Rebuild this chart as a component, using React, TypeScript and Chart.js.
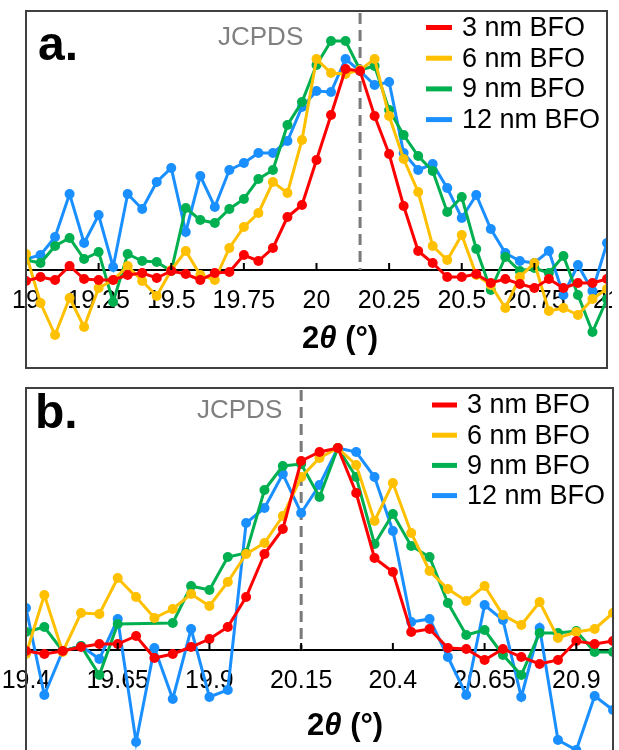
import React, { useEffect, useRef } from 'react';
import { Chart, registerables } from 'chart.js';

Chart.register(...registerables);

const FONT = "'Liberation Sans', Arial, Helvetica, sans-serif";

// ---------- Panel a data ----------
const X_A = [
  19.0, 19.05, 19.1, 19.15, 19.2, 19.25, 19.3, 19.35, 19.4, 19.45,
  19.5, 19.55, 19.6, 19.65, 19.7, 19.75, 19.8, 19.85, 19.9, 19.95,
  20.0, 20.05, 20.1, 20.15, 20.2, 20.25, 20.3, 20.35, 20.4, 20.45,
  20.5, 20.55, 20.6, 20.65, 20.7, 20.75, 20.8, 20.85, 20.9, 20.95, 21.0,
];
const RED_A = [-11, -7, -10, 4, -9, -10, -10, -5, -3, -8, -1, -4, -10, -3, -2, 15, 9, 22, 53, 65, 110, 155, 201, 199, 154, 116, 64, 19, 7, -7, -7, -4, -13, -9, -14, -18, -9, -18, -13, -13, -9];
const YEL_A = [16, -33, -65, -28, -57, -18, -10, 4, -11, -26, 0, 19, -5, -10, 22, 43, 57, 88, 77, 130, 211, 197, 196, 200, 211, 154, 111, 78, 24, 10, 35, -5, -15, -38, -7, 7, -41, -38, -45, -29, -19];
const GRN_A = [10, 7, 24, 32, 11, 18, -32, 16, 9, 8, -1, 62, 50, 47, 61, 71, 91, 100, 145, 168, 205, 229, 229, 200, 204, 160, 135, 114, 99, 58, 73, 21, -20, 13, -1, 2, -3, 14, -25, -62, -29];
const BLU_A = [11, 15, 33, 76, 27, 55, 3, 76, 61, 88, 102, 38, 94, 63, 100, 107, 117, 117, 129, 163, 179, 178, 211, 199, 185, 188, 117, 100, 106, 82, 52, 75, 41, 17, 9, 7, 19, -25, 5, -21, 27];
const TICKS_A = [19, 19.25, 19.5, 19.75, 20, 20.25, 20.5, 20.75, 21];
const TICK_LABELS_A = ['19', '19.25', '19.5', '19.75', '20', '20.25', '20.5', '20.75', '21'];

// ---------- Panel b data ----------
const X_B = [
  19.4, 19.45, 19.5, 19.55, 19.6, 19.65, 19.7, 19.75, 19.8, 19.85,
  19.9, 19.95, 20.0, 20.05, 20.1, 20.15, 20.2, 20.25, 20.3, 20.35,
  20.4, 20.45, 20.5, 20.55, 20.6, 20.65, 20.7, 20.75, 20.8, 20.85,
  20.9, 20.95, 21.0,
];
const RED_B = [-1, -4, -1, 3, 6, 6, 14, -8, -4, 3, 11, 23, 53, 96, 121, 189, 198, 202, 157, 92, 78, 18, 21, 2, 1, -10, 1, -7, -14, -10, 9, 6, 9];
const YEL_B = [-4, 55, -2, 37, 36, 72, 53, 32, 41, 56, 44, 68, 96, 107, 134, 173, 192, 202, 185, 129, 167, 117, 79, 61, 49, 64, 35, 25, 48, 12, 18, 21, 37];
const GRN_B = [18, 23, -1, 4, -25, 26, null, null, 27, 64, 60, 93, 97, 160, 184, 186, 153, 202, 173, 106, 136, 104, 93, 47, 15, 20, -5, -25, 17, 17, 19, -2, -2];
const BLU_B = [42, -45, -1, 4, -9, 31, -92, 2, -49, 21, -47, -40, 127, 142, 176, 137, 165, 202, 198, 173, 119, 28, 31, -7, -45, 45, 30, -47, 22, -90, -100, -46, -60];
const TICKS_B = [19.4, 19.65, 19.9, 20.15, 20.4, 20.65, 20.9];
const TICK_LABELS_B = ['19.4', '19.65', '19.9', '20.15', '20.4', '20.65', '20.9'];

const SERIES_LABELS = ['3 nm BFO', '6 nm BFO', '9 nm BFO', '12 nm BFO'];
const COLORS = ['#FF0000', '#FFC000', '#00B050', '#1A8FFF'];
const JCPDS_POS = 20.15;
const JCPDS_TEXT = 'JCPDS';

type PanelCfg = {
  letter: string;
  top: number;
  width: number;
  height: number;
  padding: { left: number; right: number; top: number; bottom: number };
  xs: number[];
  series: (number | null)[][];
  ticks: number[];
  tickLabels: string[];
  xMin: number;
  xMax: number;
  yMin: number;
  yMax: number;
  letterPos: [number, number];
  jcpdsPos: [number, number];
  legend: { lineX1: number; lineX2: number; textX: number; y0: number; dy: number };
  titlePos: [number, number];
};

const PANELS: PanelCfg[] = [
  {
    letter: 'a.',
    top: 0,
    width: 612,
    height: 375,
    padding: { left: 26, right: 2, top: 11, bottom: 7 },
    xs: X_A,
    series: [RED_A, YEL_A, GRN_A, BLU_A],
    ticks: TICKS_A,
    tickLabels: TICK_LABELS_A,
    xMin: 19,
    xMax: 21,
    yMin: -98,
    yMax: 259,
    letterPos: [38, 60],
    jcpdsPos: [218, 45],
    legend: { lineX1: 426, lineX2: 452, textX: 462, y0: 27.5, dy: 30.7 },
    titlePos: [302, 339],
  },
  {
    letter: 'b.',
    top: 380,
    width: 619,
    height: 390,
    padding: { left: 26, right: 6, top: 8, bottom: 10 },
    xs: X_B,
    series: [RED_B, YEL_B, GRN_B, BLU_B],
    ticks: TICKS_B,
    tickLabels: TICK_LABELS_B,
    xMin: 19.4,
    xMax: 21.0,
    yMin: -110,
    yMax: 262,
    letterPos: [35, 48],
    jcpdsPos: [197, 37.5],
    legend: { lineX1: 432, lineX2: 457, textX: 467, y0: 25, dy: 30.2 },
    titlePos: [307, 346],
  },
];

function Panel({ cfg }: { cfg: PanelCfg }) {
  const ref = useRef<HTMLCanvasElement | null>(null);

  useEffect(() => {
    const canvas = ref.current;
    if (!canvas) return;

    const overlay = {
      id: 'overlay',
      beforeDatasetsDraw(chart: any) {
        const { ctx, chartArea } = chart;
        const xs = chart.scales.x;
        const ys = chart.scales.y;
        const x = xs.getPixelForValue(JCPDS_POS);
        ctx.save();
        ctx.strokeStyle = '#7A7A7A';
        ctx.lineWidth = 3;
        ctx.setLineDash([11, 6]);
        ctx.beginPath();
        ctx.moveTo(x, chartArea.top + 2);
        ctx.lineTo(x, ys.getPixelForValue(0));
        ctx.stroke();
        ctx.restore();
      },
      afterDraw(chart: any) {
        const { ctx, chartArea } = chart;
        const xs = chart.scales.x;
        const ys = chart.scales.y;
        const y0 = ys.getPixelForValue(0);
        ctx.save();
        // upward tick marks
        ctx.strokeStyle = '#000';
        ctx.lineWidth = 2;
        cfg.ticks.forEach((v) => {
          const px = xs.getPixelForValue(v);
          ctx.beginPath();
          ctx.moveTo(px, y0);
          ctx.lineTo(px, y0 - 7);
          ctx.stroke();
        });
        // frame
        ctx.strokeStyle = '#404040';
        ctx.lineWidth = 2;
        ctx.strokeRect(
          chartArea.left,
          chartArea.top,
          chartArea.right - chartArea.left,
          chartArea.bottom - chartArea.top
        );
        // panel letter
        ctx.fillStyle = '#000';
        ctx.textAlign = 'left';
        ctx.textBaseline = 'alphabetic';
        ctx.font = `bold 48px ${FONT}`;
        ctx.fillText(cfg.letter, cfg.letterPos[0], cfg.letterPos[1]);
        // JCPDS label
        ctx.fillStyle = '#7F7F7F';
        ctx.font = `26px ${FONT}`;
        ctx.fillText(JCPDS_TEXT, cfg.jcpdsPos[0], cfg.jcpdsPos[1]);
        // legend
        const lg = cfg.legend;
        chart.data.datasets.forEach((ds: any, k: number) => {
          const y = lg.y0 + k * lg.dy;
          ctx.strokeStyle = ds.borderColor;
          ctx.lineWidth = 5;
          ctx.beginPath();
          ctx.moveTo(lg.lineX1, y);
          ctx.lineTo(lg.lineX2, y);
          ctx.stroke();
          ctx.fillStyle = '#000';
          ctx.font = `27px ${FONT}`;
          ctx.textBaseline = 'middle';
          ctx.fillText(ds.label, lg.textX, y + 1);
        });
        // axis title 2θ (°)
        const parts: [string, string][] = [
          ['2', `bold 31px ${FONT}`],
          ['\u03B8', `italic bold 31px ${FONT}`],
          [' (\u00B0)', `bold 31px ${FONT}`],
        ];
        let cx = cfg.titlePos[0];
        ctx.fillStyle = '#000';
        ctx.textBaseline = 'middle';
        parts.forEach(([t, f]) => {
          ctx.font = f;
          ctx.fillText(t, cx, cfg.titlePos[1]);
          cx += ctx.measureText(t).width;
        });
        ctx.restore();
      },
    };

    const datasets = cfg.series.map((ys, k) => ({
      label: SERIES_LABELS[k],
      data: cfg.xs.map((x, i) => ({ x, y: ys[i] })),
      borderColor: COLORS[k],
      backgroundColor: COLORS[k],
      pointBackgroundColor: COLORS[k],
      pointBorderWidth: 0,
      pointRadius: 5,
      borderWidth: 3,
      spanGaps: true,
      tension: 0,
    }));

    const chart = new Chart(canvas, {
      type: 'line',
      data: { datasets } as any,
      options: {
        responsive: false,
        animation: false,
        devicePixelRatio: 1,
        layout: { padding: cfg.padding },
        plugins: {
          legend: { display: false },
          tooltip: { enabled: false },
        },
        scales: {
          x: {
            type: 'linear',
            min: cfg.xMin,
            max: cfg.xMax,
            position: { y: 0 } as any,
            afterBuildTicks: (scale: any) => {
              scale.ticks = cfg.ticks.map((v) => ({ value: v }));
            },
            afterFit: (scale: any) => {
              scale.paddingLeft = 0;
              scale.paddingRight = 0;
              scale.paddingTop = 0;
              scale.paddingBottom = 0;
            },
            grid: { display: false, drawTicks: false },
            border: { display: true, color: '#000', width: 2 },
            ticks: {
              autoSkip: false,
              maxRotation: 0,
              minRotation: 0,
              padding: 16,
              color: '#000',
              font: { size: 25, family: FONT },
              callback: (_v: any, idx: number) => cfg.tickLabels[idx],
            },
          },
          y: {
            type: 'linear',
            min: cfg.yMin,
            max: cfg.yMax,
            display: false,
          },
        },
      } as any,
      plugins: [overlay],
    });

    return () => chart.destroy();
  }, [cfg]);

  return (
    <canvas
      ref={ref}
      width={cfg.width}
      height={cfg.height}
      style={{ position: 'absolute', left: 0, top: cfg.top, width: cfg.width, height: cfg.height }}
    />
  );
}

export default function App() {
  return (
    <div
      style={{
        position: 'absolute',
        left: 0,
        top: 0,
        width: 619,
        height: 750,
        overflow: 'hidden',
        background: '#fff',
      }}
    >
      {PANELS.map((p) => (
        <Panel key={p.letter} cfg={p} />
      ))}
    </div>
  );
}
